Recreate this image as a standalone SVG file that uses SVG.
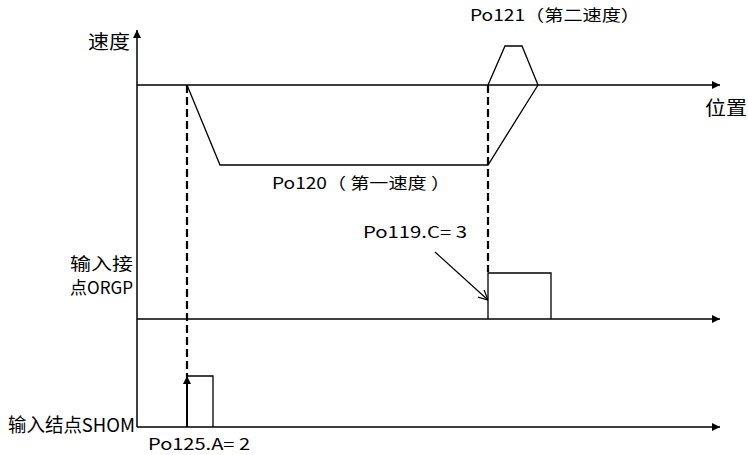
<svg xmlns="http://www.w3.org/2000/svg" width="748" height="455" viewBox="0 0 748 455">
<style>
.ax{stroke:#000;stroke-width:1.5;fill:none}
.ln{stroke:#000;stroke-width:1.3;fill:none}
.dash{stroke:#000;stroke-width:2.2;fill:none;stroke-dasharray:8 4}
.t{font-family:"Noto Sans CJK SC","Liberation Sans",sans-serif;font-size:16px;fill:#000}
.s{font-family:"Noto Sans CJK SC","Liberation Sans",sans-serif;font-size:19px;fill:#000}
.m{font-family:"Noto Sans CJK SC","Liberation Sans",sans-serif;font-size:17px;fill:#000}
</style>
<defs>
<marker id="ah" viewBox="0 0 10 10" refX="10" refY="5" markerWidth="10" markerHeight="8" markerUnits="userSpaceOnUse" orient="auto"><path d="M0,0 L10,5 L0,10 z" fill="#000"/></marker>
<marker id="open" viewBox="0 0 10 10" refX="10" refY="5" markerWidth="10" markerHeight="10" markerUnits="userSpaceOnUse" orient="auto"><path d="M0,0 L10,5 L0,10" fill="none" stroke="#000" stroke-width="1.2"/></marker>
</defs>
<g id="axes">
<line class="ax" x1="137" y1="427" x2="137" y2="30" marker-end="url(#ah)"/>
<line class="ax" x1="137" y1="85" x2="720" y2="85" marker-end="url(#ah)"/>
<line class="ax" x1="137" y1="319" x2="720" y2="319" marker-end="url(#ah)"/>
<line class="ax" x1="137" y1="427" x2="720" y2="427" marker-end="url(#ah)"/>
</g>
<g id="speed-profile">
<polyline class="ln" points="187,85 220,165 488,165 538,85"/>
<polyline class="ln" points="488,85 505,46 522,46 538,85"/>
</g>
<g id="signals">
<polyline class="ln" points="488,319 488,273 551,273 551,319"/>
<polyline class="ln" points="187,427 187,376 213,376 213,427"/>
</g>
<g id="connectors">
<line class="dash" x1="187" y1="85" x2="187" y2="378"/>
<line class="dash" x1="488" y1="85" x2="488" y2="272"/>
<line stroke="#000" stroke-width="2" x1="187" y1="427" x2="187" y2="376" marker-end="url(#ah)"/>
<line stroke="#000" stroke-width="1.2" x1="435" y1="252" x2="488" y2="300" marker-end="url(#open)"/>
</g>
<g id="labels">
<text class="s" x="88" y="49" textLength="42" lengthAdjust="spacingAndGlyphs">速度</text>
<text class="s" x="705" y="115" textLength="42" lengthAdjust="spacingAndGlyphs">位置</text>
<text class="t" x="470" y="21" textLength="170" lengthAdjust="spacingAndGlyphs">Po121（第二速度）</text>
<text class="t" x="272" y="189" textLength="178" lengthAdjust="spacingAndGlyphs">Po120（ 第一速度 ）</text>
<text class="t" x="363" y="238" textLength="104" lengthAdjust="spacingAndGlyphs">Po119.C= 3</text>
<text class="m" x="70" y="270" textLength="63" lengthAdjust="spacingAndGlyphs">输入接</text>
<text class="m" x="70" y="294" textLength="63" lengthAdjust="spacingAndGlyphs">点ORGP</text>
<text class="s" x="8" y="432" textLength="127" lengthAdjust="spacingAndGlyphs">输入结点SHOM</text>
<text class="t" x="148" y="450" textLength="102" lengthAdjust="spacingAndGlyphs">Po125.A= 2</text>
</g>
</svg>
